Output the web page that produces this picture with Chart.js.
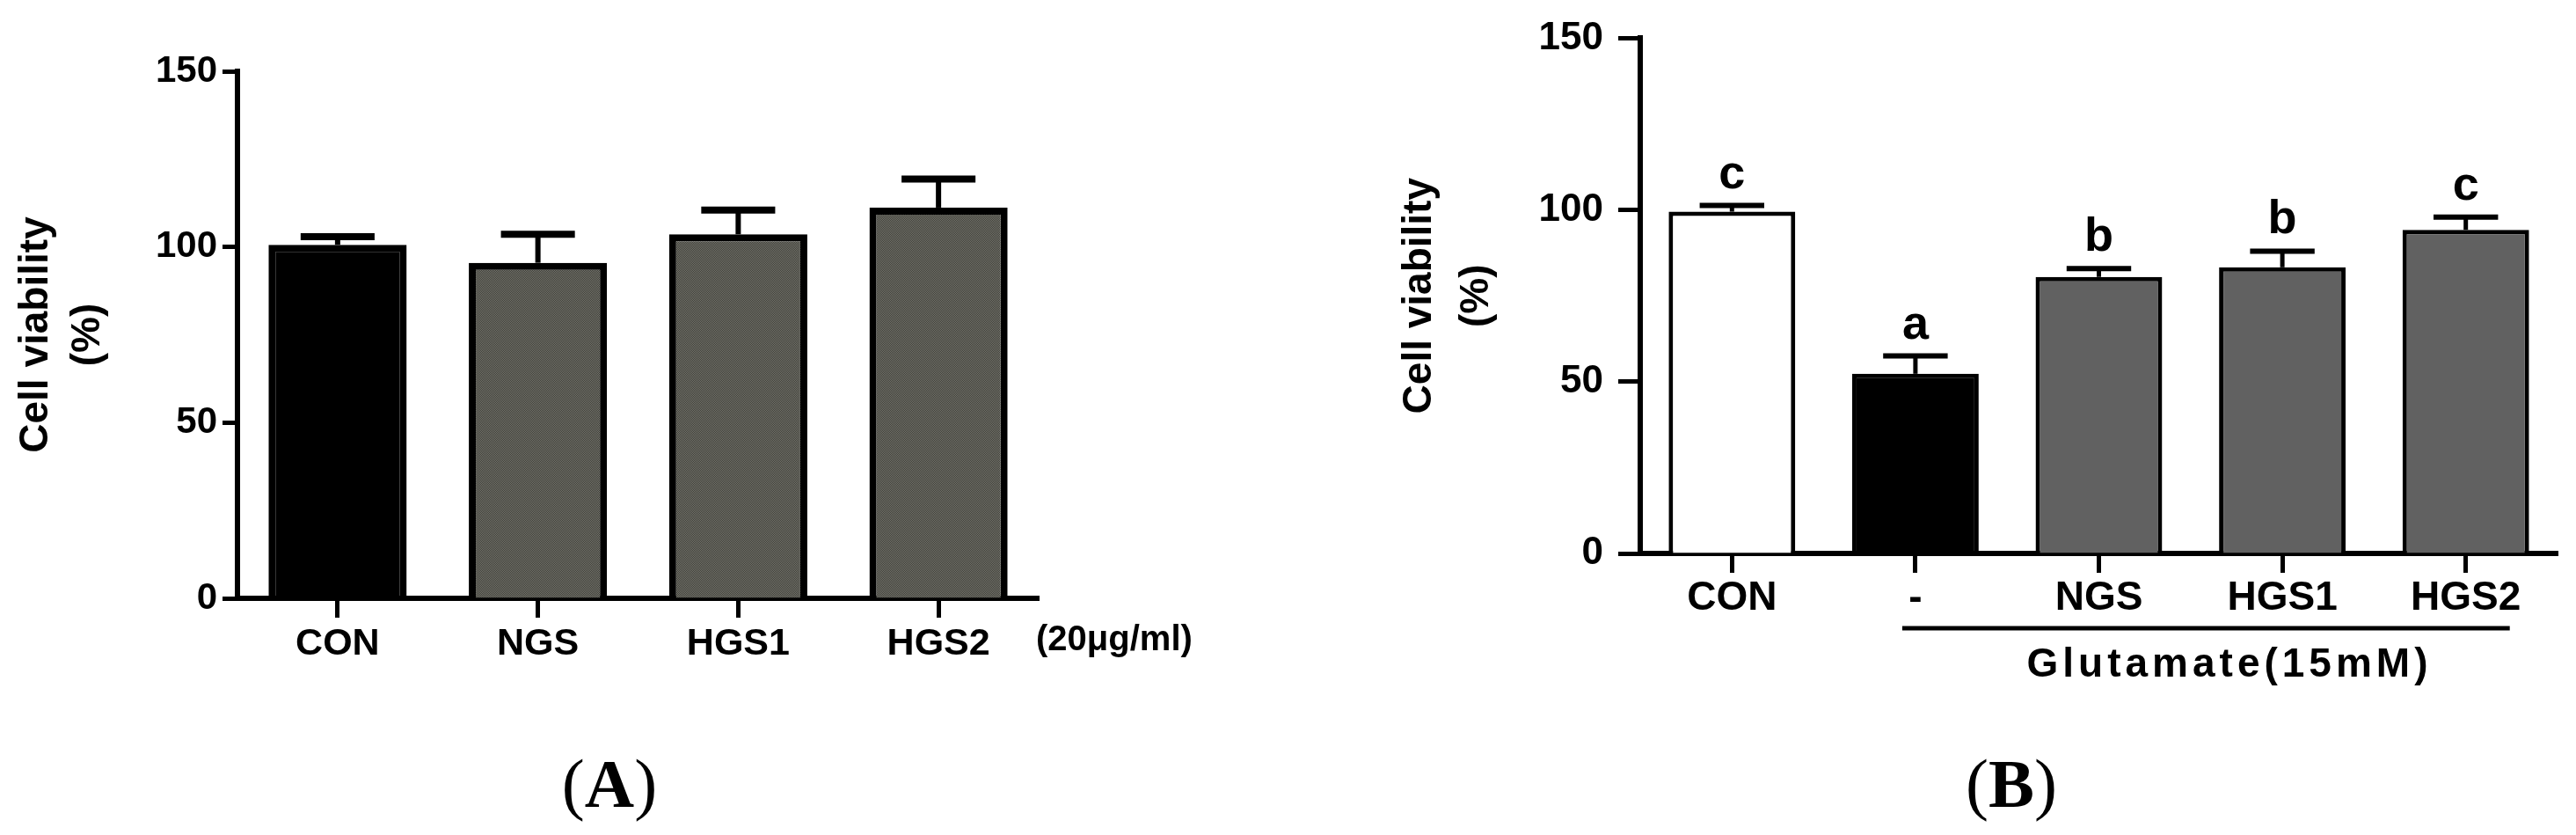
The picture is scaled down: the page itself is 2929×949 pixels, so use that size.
<!DOCTYPE html>
<html>
<head>
<meta charset="utf-8">
<script src="https://cdn.jsdelivr.net/npm/chart.js@4.4.1/dist/chart.umd.min.js"></script>
<style>
    html, body { margin: 0; padding: 0; background: #fff; }
    body { width: 2929px; height: 949px; position: relative; overflow: hidden; }
    .panel { position: absolute; top: 0; height: 949px; }
    #panelA { left: 0; width: 1480px; }
    #panelB { left: 1480px; width: 1449px; }
</style>
</head>
<body>
<div class="panel" id="panelA"><canvas id="chartA"></canvas></div>
<div class="panel" id="panelB"><canvas id="chartB"></canvas></div>
<script>
// (A) extracts alone, 20 ug/ml
const labelsA = ["CON", "NGS", "HGS1", "HGS2"];
const viabilityA = [100.6, 95.5, 103.6, 111.2];
const semA = [2.3, 8.1, 6.9, 8.1];

// (B) with glutamate 15 mM
const labelsB = ["CON", "-", "NGS", "HGS1", "HGS2"];
const viabilityB = [99.5, 52.3, 80.5, 83.3, 94.2];
const semB = [1.8, 5.2, 2.4, 4.7, 3.7];
const lettersB = ["c", "a", "b", "b", "c"];

const yTicks = [0, 50, 100, 150];

Chart.defaults.font.family = "'Liberation Sans', Arial, sans-serif";
Chart.defaults.color = "#000";

// checker dither like the gray bars in panel A
function ditherPattern(ctx) {
    const c = document.createElement("canvas");
    c.width = 2;
    c.height = 2;
    const g = c.getContext("2d");
    g.fillStyle = "#76766d";
    g.fillRect(0, 0, 2, 2);
    g.fillStyle = "#3d3d38";
    g.fillRect(0, 0, 1, 1);
    g.fillRect(1, 1, 1, 1);
    return ctx.createPattern(c, "repeat");
}

function panelLabel(ctx, letter, cx, cy) {
    const reg = "78px 'Liberation Serif', 'Times New Roman', serif";
    const bold = "bold 78px 'Liberation Serif', 'Times New Roman', serif";
    ctx.font = reg;
    const wp = ctx.measureText("(").width;
    const wc = ctx.measureText(")").width;
    ctx.font = bold;
    const wl = ctx.measureText(letter).width;
    let x = cx - (wp + wl + wc) / 2;
    ctx.textAlign = "left";
    ctx.textBaseline = "middle";
    ctx.fillStyle = "#000";
    ctx.font = reg;
    ctx.fillText("(", x, cy);
    x += wp;
    ctx.font = bold;
    ctx.fillText(letter, x, cy);
    x += wl;
    ctx.font = reg;
    ctx.fillText(")", x, cy);
}

// error bars (upper only), letters and text around the axes
function extrasPlugin(cfg) {
    return {
        id: "extras",
        afterDatasetsDraw(chart) {
            const ctx = chart.ctx;
            const xs = chart.scales.x;
            const ys = chart.scales.y;
            const bars = chart.getDatasetMeta(0).data;
            ctx.save();
            ctx.strokeStyle = "#000";
            ctx.lineCap = "butt";
            cfg.means.forEach((m, i) => {
                const cx = bars[i].x;
                const top = ys.getPixelForValue(m);
                const capY = ys.getPixelForValue(m + cfg.sem[i]);
                const half = bars[i].width * cfg.capRatio / 2;
                ctx.lineWidth = cfg.stem;
                ctx.beginPath();
                ctx.moveTo(cx, top);
                ctx.lineTo(cx, capY);
                ctx.stroke();
                ctx.lineWidth = cfg.cap;
                ctx.beginPath();
                ctx.moveTo(cx - half, capY);
                ctx.lineTo(cx + half, capY);
                ctx.stroke();
                if (cfg.letters) {
                    ctx.fillStyle = "#000";
                    ctx.font = "bold 54px 'Liberation Sans', Arial, sans-serif";
                    ctx.textAlign = "center";
                    ctx.textBaseline = "alphabetic";
                    ctx.fillText(cfg.letters[i], cx, capY - 20);
                }
            });
            if (cfg.after) cfg.after(chart, ctx, xs, ys);
            ctx.restore();
        }
    };
}

function yAxis(o) {
    return {
        min: 0,
        max: 150,
        afterBuildTicks: s => { s.ticks = yTicks.map(v => ({ value: v })); },
        ticks: { color: "#000", font: { size: o.tickSize, weight: "bold" }, padding: o.tickPad },
        grid: { drawOnChartArea: false, drawTicks: true, tickLength: o.tickLen, tickWidth: 5, tickColor: "#000" },
        border: { display: true, color: "#000", width: 6 },
        title: {
            display: true,
            text: ["Cell viability", "(%)"],
            color: "#000",
            font: { size: 46, weight: "bold", lineHeight: o.titleLh },
            padding: { top: o.titlePad, bottom: 0 }
        },
        afterFit: s => { s.width = o.width; }
    };
}

function xAxis(o) {
    return {
        offset: true,
        ticks: { color: "#000", font: { size: o.fontSize, weight: "bold" }, padding: o.pad, maxRotation: 0, autoSkip: false },
        grid: { offset: false, drawOnChartArea: false, drawTicks: true, tickLength: 22, tickWidth: 5, tickColor: "#000" },
        border: { display: true, color: "#000", width: 6 },
        afterFit: s => { s.height = o.height; }
    };
}

const ctxA = document.getElementById("chartA").getContext("2d");
const dither = ditherPattern(ctxA);

new Chart(ctxA, {
    type: "bar",
    data: {
        labels: labelsA,
        datasets: [{
            data: viabilityA,
            backgroundColor: ["#000", dither, dither, dither],
            borderColor: "#000",
            borderWidth: 8,
            borderSkipped: "bottom",
            barPercentage: 0.69,
            categoryPercentage: 1
        }]
    },
    options: {
        responsive: true,
        maintainAspectRatio: false,
        animation: false,
        layout: { padding: { left: 0, top: 81, right: 299, bottom: 0 } },
        plugins: { legend: { display: false }, tooltip: { enabled: false } },
        scales: {
            x: xAxis({ fontSize: 43, pad: 4, height: 269 }),
            y: yAxis({ tickSize: 42, tickPad: 6, tickLen: 17, titleLh: 1.3, titlePad: 11, width: 270 })
        }
    },
    plugins: [extrasPlugin({
        means: viabilityA,
        sem: semA,
        capRatio: 0.535,
        stem: 6,
        cap: 8,
        after(chart, ctx, xs) {
            ctx.fillStyle = "#000";
            ctx.font = "bold 40px 'Liberation Sans', Arial, sans-serif";
            ctx.textAlign = "left";
            ctx.textBaseline = "middle";
            ctx.fillText("(20\u03bcg/ml)", chart.chartArea.right - 3, xs.top + 48);
            panelLabel(ctx, "A", 693, 897);
        }
    })]
});

new Chart(document.getElementById("chartB"), {
    type: "bar",
    data: {
        labels: labelsB,
        datasets: [{
            data: viabilityB,
            backgroundColor: ["#ffffff", "#000000", "#616161", "#616161", "#616161"],
            borderColor: "#000",
            borderWidth: 5,
            borderSkipped: "bottom",
            barPercentage: 0.69,
            categoryPercentage: 1
        }]
    },
    options: {
        responsive: true,
        maintainAspectRatio: false,
        animation: false,
        layout: { padding: { left: 0, top: 43, right: 21, bottom: 0 } },
        plugins: { legend: { display: false }, tooltip: { enabled: false } },
        scales: {
            x: xAxis({ fontSize: 46, pad: 2, height: 320 }),
            y: yAxis({ tickSize: 44, tickPad: 17, tickLen: 25, titleLh: 1.43, titlePad: 101, width: 385 })
        }
    },
    plugins: [extrasPlugin({
        means: viabilityB,
        sem: semB,
        letters: lettersB,
        capRatio: 0.51,
        stem: 5,
        cap: 6,
        after(chart, ctx, xs) {
            // bracket under the glutamate-treated groups
            const x0 = xs.getPixelForValue(1) - 15;
            const x1 = xs.getPixelForValue(4) + 50;
            ctx.lineWidth = 5;
            ctx.beginPath();
            ctx.moveTo(x0, xs.top + 85);
            ctx.lineTo(x1, xs.top + 85);
            ctx.stroke();
            ctx.fillStyle = "#000";
            ctx.font = "bold 46px 'Liberation Sans', Arial, sans-serif";
            ctx.letterSpacing = "5px";
            ctx.textAlign = "center";
            ctx.textBaseline = "middle";
            ctx.fillText("Glutamate(15mM)", 1055, xs.top + 127);
            ctx.letterSpacing = "0px";
            panelLabel(ctx, "B", 807, 897);
        }
    })]
});
</script>
</body>
</html>
